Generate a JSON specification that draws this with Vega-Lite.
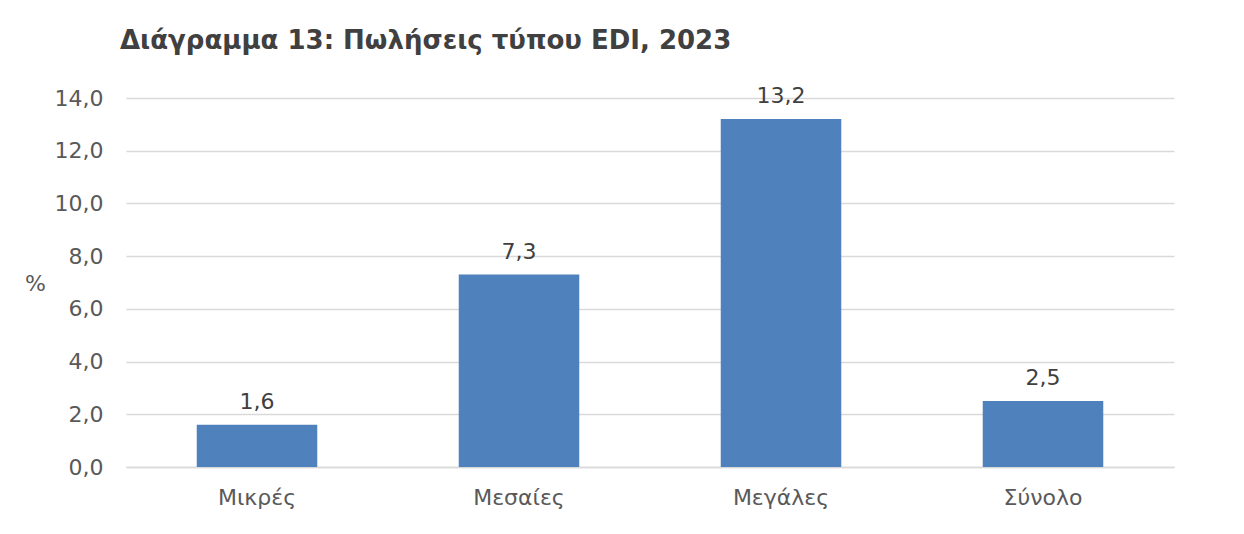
{
  "$schema": "https://vega.github.io/schema/vega-lite/v6.json",
  "autosize": {"type": "none"},
  "width": 1048,
  "height": 369,
  "padding": {"left": 126, "top": 98, "right": 70, "bottom": 67},
  "background": "white",
  "config": {
    "locale": {"number": {"decimal": ",", "thousands": ".", "grouping": [3], "currency": ["", " €"]}},
    "view": {"stroke": null},
    "font": "DejaVu Sans"
  },
  "title": {
    "text": "Διάγραμμα 13: Πωλήσεις τύπου EDI, 2023",
    "anchor": "start",
    "frame": "group",
    "dx": -6,
    "offset": 31,
    "fontSize": 26,
    "fontWeight": "bold",
    "color": "#404040",
    "font": "DejaVu Sans"
  },
  "data": {
    "values": [
      {"category": "Μικρές", "value": 1.6},
      {"category": "Μεσαίες", "value": 7.3},
      {"category": "Μεγάλες", "value": 13.2},
      {"category": "Σύνολο", "value": 2.5}
    ]
  },
  "encoding": {
    "x": {
      "field": "category",
      "type": "nominal",
      "sort": null,
      "scale": {"paddingInner": 0.54, "paddingOuter": 0.27},
      "axis": {
        "title": null,
        "labelAngle": 0,
        "labelFontSize": 22,
        "labelColor": "#595959",
        "labelPadding": 20,
        "ticks": false,
        "domainColor": "#D9D9D9",
        "domainWidth": 1.5,
        "labelFont": "DejaVu Sans"
      }
    },
    "y": {
      "field": "value",
      "type": "quantitative",
      "scale": {"domain": [0, 14]},
      "axis": {
        "title": "%",
        "titleAngle": 0,
        "titleX": -91,
        "titleY": 185,
        "titleAlign": "center",
        "titleBaseline": "middle",
        "titleFontSize": 22,
        "titleFontWeight": "normal",
        "titleColor": "#595959",
        "values": [0, 2, 4, 6, 8, 10, 12, 14],
        "format": ".1f",
        "labelFontSize": 22,
        "labelColor": "#595959",
        "labelPadding": 23,
        "ticks": false,
        "domain": false,
        "gridColor": "#D9D9D9",
        "gridWidth": 1.5,
        "labelFont": "DejaVu Sans"
      }
    }
  },
  "layer": [
    {"mark": {"type": "bar", "color": "#4F81BD"}},
    {
      "mark": {"type": "text", "baseline": "bottom", "dy": -11, "fontSize": 22, "color": "#404040", "font": "DejaVu Sans"},
      "encoding": {"text": {"field": "value", "type": "quantitative", "format": ".1f"}}
    }
  ]
}
